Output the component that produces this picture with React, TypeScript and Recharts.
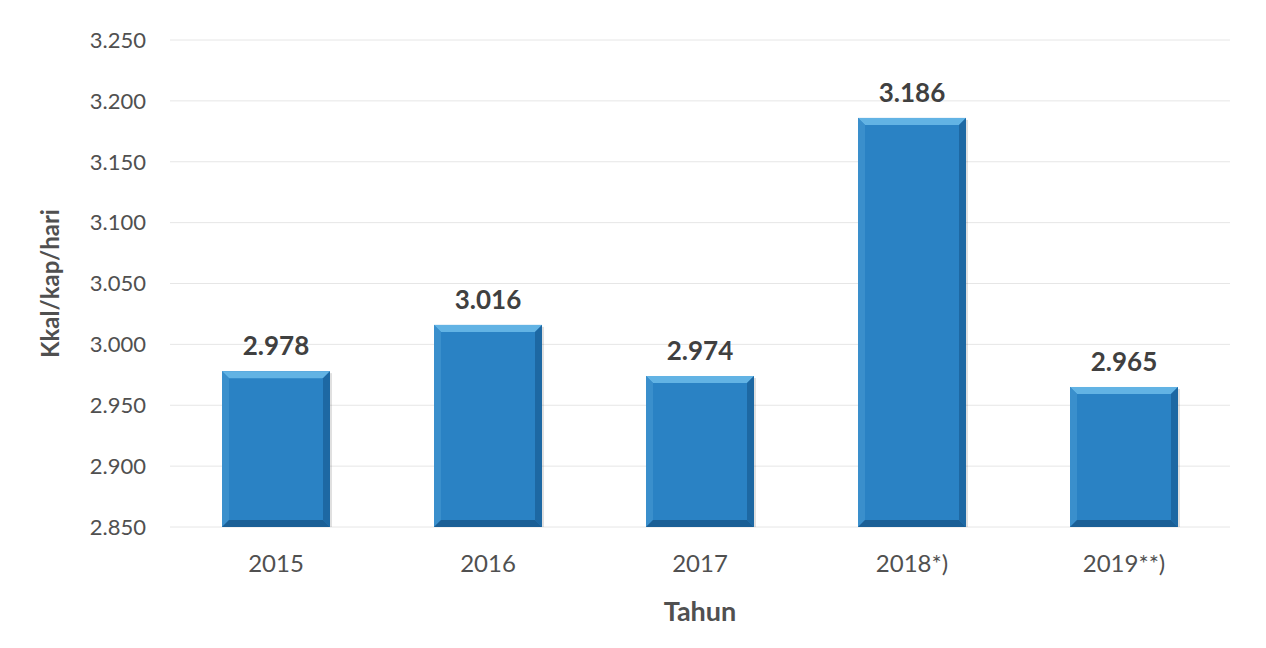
import React from "react";
import {
  BarChart,
  Bar,
  XAxis,
  YAxis,
  CartesianGrid,
  LabelList,
  Label,
} from "recharts";

const years = ["2015", "2016", "2017", "2018*)", "2019**)"];
const energy = [2978, 3016, 2974, 3186, 2965];
const yTicks = [2850, 2900, 2950, 3000, 3050, 3100, 3150, 3200, 3250];

const data = years.map((year, i) => ({ year, value: energy[i] }));

const fmt = (v: number) => v.toLocaleString("de-DE");

const FONT = "Lato, 'Open Sans', sans-serif";

// bevelled bar like the spreadsheet's 3D style
const BevelBar = (props: any) => {
  const { x, y, width: w, height: h } = props;
  if (w == null || h == null || h <= 0) return null;
  const b = 7;
  return (
    <g>
      <rect x={x + 2} y={y + 2} width={w} height={h} fill="#000" opacity={0.12} />
      <rect x={x} y={y} width={w} height={h} fill="#2a82c4" />
      <polygon
        points={`${x},${y} ${x + w},${y} ${x + w - b},${y + b} ${x + b},${y + b}`}
        fill="#62b3e4"
      />
      <polygon
        points={`${x},${y} ${x + b},${y + b} ${x + b},${y + h - b} ${x},${y + h}`}
        fill="#3a8fcc"
      />
      <polygon
        points={`${x + w},${y} ${x + w},${y + h} ${x + w - b},${y + h - b} ${x + w - b},${y + b}`}
        fill="#1d68a3"
      />
      <polygon
        points={`${x},${y + h} ${x + w},${y + h} ${x + w - b},${y + h - b} ${x + b},${y + h - b}`}
        fill="#1a5f96"
      />
    </g>
  );
};

export default function App() {
  return (
    <div style={{ width: 1250, height: 632, background: "#fff" }}>
      <BarChart
        width={1250}
        height={632}
        data={data}
        margin={{ top: 32, right: 28, left: 0, bottom: 53 }}
      >
        <CartesianGrid vertical={false} stroke="#e6e6e6" />
        <XAxis
          dataKey="year"
          axisLine={false}
          tickLine={false}
          tickSize={0}
          tickMargin={28}
          height={60}
          tick={{ fill: "#505050", fontSize: 24, fontFamily: FONT }}
        >
          <Label
            value="Tahun"
            position="insideBottom"
            offset={-34}
            style={{ fill: "#505050", fontSize: 27, fontWeight: 700, fontFamily: FONT }}
          />
        </XAxis>
        <YAxis
          domain={[2850, 3250]}
          ticks={yTicks}
          allowDataOverflow
          axisLine={false}
          tickLine={false}
          tickSize={0}
          tickMargin={24}
          width={162}
          tickFormatter={fmt}
          tick={{ fill: "#505050", fontSize: 22, fontFamily: FONT }}
        >
          <Label
            value="Kkal/kap/hari"
            angle={-90}
            position="insideLeft"
            offset={42}
            style={{
              textAnchor: "middle",
              fill: "#505050",
              fontSize: 24,
              fontWeight: 700,
              fontFamily: FONT,
            }}
          />
        </YAxis>
        <Bar
          dataKey="value"
          barSize={108}
          isAnimationActive={false}
          shape={<BevelBar />}
        >
          <LabelList
            dataKey="value"
            position="top"
            offset={16}
            formatter={(v: any) => fmt(Number(v))}
            style={{ fill: "#404040", fontSize: 26, fontWeight: 700, fontFamily: FONT }}
          />
        </Bar>
      </BarChart>
    </div>
  );
}
